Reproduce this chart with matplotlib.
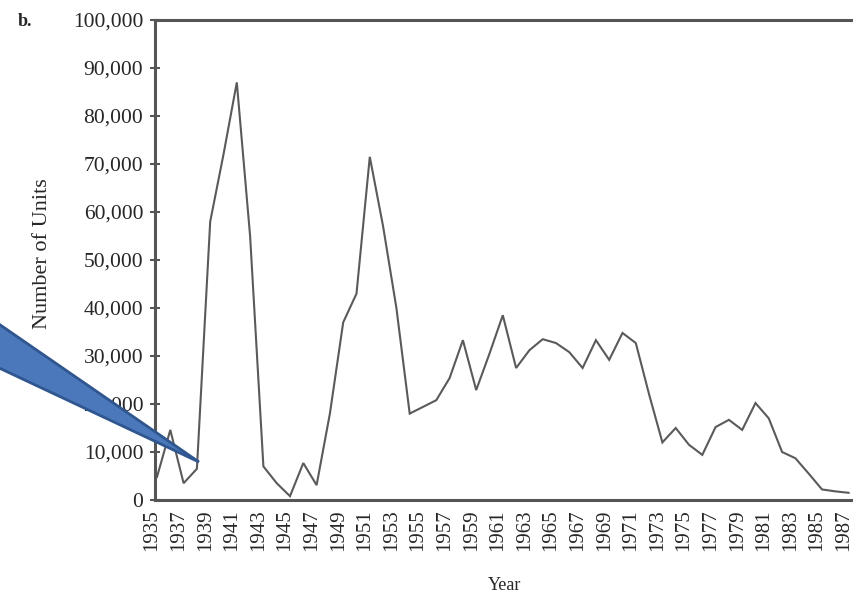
import numpy as np
import matplotlib
matplotlib.use("Agg")
import matplotlib.pyplot as plt
import matplotlib.ticker as ticker
import matplotlib.transforms as mtransforms
from matplotlib.patches import Polygon

# ── data ─────────────────────────────────────────────────────────────────────
years = list(range(1935, 1988))
units = [4800, 14600, 3500, 6500, 58000, 72000, 87000, 55000, 7000, 3500,
         800, 7700, 3100, 18000, 37000, 43000, 71500, 57000, 40000, 18000,
         19400, 20800, 25400, 33300, 22900, 30500, 38500, 27500, 31200, 33500,
         32700, 30800, 27500, 33300, 29200, 34800, 32700, 22000, 12000, 15000,
         11500, 9400, 15200, 16700, 14600, 20200, 17000, 10000, 8700, 5500,
         2200, 1800, 1500]
label_years = list(range(1935, 1988, 2))
y_ticks = list(range(0, 100001, 10000))

W, H = 854, 594
SERIF = ["Liberation Serif", "DejaVu Serif"]
INK = "#555555"
TXT = "#262626"

fig = plt.figure(figsize=(W / 100, H / 100), dpi=100)
fig.patch.set_facecolor("white")

# axes runs off the right edge like the cropped scan
left_px, right_px, top_px, bot_px = 155, 880, 20, 500
ax = fig.add_axes([left_px / W, (H - bot_px) / H,
                   (right_px - left_px) / W, (bot_px - top_px) / H])

ax.plot(years, units, color="#5a5a5a", linewidth=1.5, solid_joinstyle="miter")

px_per_year = 13.3
x0 = 1935 - 2 / px_per_year
ax.set_xlim(x0, x0 + (right_px - left_px) / px_per_year)
ax.set_ylim(0, 100000)

ax.set_yticks(y_ticks)
ax.yaxis.set_major_formatter(ticker.FuncFormatter(lambda v, p: f"{int(v):,}"))
ax.set_xticks(label_years)
ax.set_xticklabels([str(y) for y in label_years], rotation=90)

ax.tick_params(axis="y", direction="inout", length=7, width=1.5, color=INK,
               pad=5, labelsize=15.5, labelcolor=TXT)
ax.tick_params(axis="x", length=0, pad=7, labelsize=15, labelcolor=TXT)
for lbl in ax.get_yticklabels():
    lbl.set_family(SERIF)
# year labels sit a few pixels left of the plotted points in the scan
shift = mtransforms.ScaledTranslation(-5 / 100, 0, fig.dpi_scale_trans)
for lbl in ax.get_xticklabels():
    lbl.set_family(SERIF)
    lbl.set_transform(lbl.get_transform() + shift)

for side in ("left", "bottom", "top"):
    ax.spines[side].set_color(INK)
    ax.spines[side].set_linewidth(2.2)
ax.spines["right"].set_visible(False)

ax.set_ylabel("Number of Units", family=SERIF, fontsize=16, color=TXT)
ax.yaxis.set_label_coords((52 - left_px) / (right_px - left_px), 0.5125)
ax.set_xlabel("Year", family=SERIF, fontsize=13, color=TXT)
ax.xaxis.set_label_coords((505 - left_px) / (right_px - left_px),
                          -(585 - bot_px) / (bot_px - top_px))
ax.xaxis.label.set_va("center")

fig.text(18 / W, 1 - 21 / H, "b.", family=SERIF, fontsize=13,
         fontweight="bold", ha="left", va="center", color=TXT)

# blue callout wedge pointing at the 1938 dip
wedge = Polygon([(-20 / W, 1 - 311 / H), (199 / W, 1 - 462 / H),
                 (-20 / W, 1 - 359 / H)],
                closed=True, transform=fig.transFigure,
                facecolor="#4a78ba", edgecolor="#30568f", linewidth=2.0,
                zorder=10)
fig.patches.append(wedge)

fig.savefig("out.png", dpi=100, facecolor="white")
